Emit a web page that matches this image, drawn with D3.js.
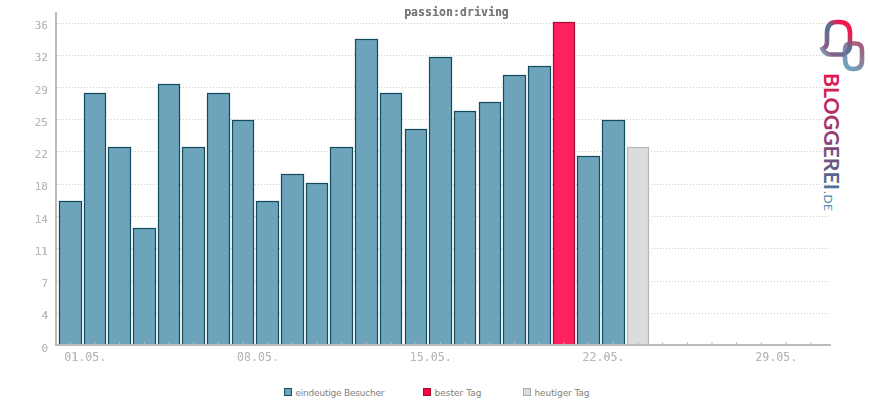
<!DOCTYPE html>
<html><head><meta charset="utf-8">
<script src="https://cdn.jsdelivr.net/npm/d3@7"></script>
<style>html,body{margin:0;padding:0;background:#fff}svg{display:block}</style>
</head><body><svg id="c" width="870" height="400"></svg>
<script>
const chartTitle = "passion:driving";
const days = d3.range(1, 32);
const visitors = [16,28,22,13,29,22,28,25,16,19,18,22,34,28,24,32,26,27,30,31,36,21,25,22];
const bestDay = 21;
const todayDay = 24;
const yTicks = [0,3.6,7.2,10.8,14.4,18,21.6,25.2,28.8,32.4,36];
const xLabelDays = [1,8,15,22,29];
const legendLabels = ["eindeutige Besucher","bester Tag","heutiger Tag"];

const svg = d3.select("#c");
const defs = svg.append("defs");
const x = d3.scaleBand().domain(days).range([58,823]).paddingInner(0.085).paddingOuter(0.04);
const y = d3.scaleLinear().domain([0,36]).range([345,22.5]);
const mono = "'DejaVu Sans Mono', monospace";
const axisCol = "#bbbbbb";

// hard-edged text, like the reference's bitmap rendering
const hard = defs.append("filter").attr("id","hard").attr("x","-5%").attr("y","-20%").attr("width","110%").attr("height","140%")
  .attr("color-interpolation-filters","sRGB");
hard.append("feComponentTransfer").append("feFuncA").attr("type","table").attr("tableValues","0 0.35 1 1");

// grid
svg.append("g").selectAll("line").data(yTicks.slice(1)).join("line")
  .attr("x1",57).attr("x2",830)
  .attr("y1",d=>Math.round(y(d))+0.5).attr("y2",d=>Math.round(y(d))+0.5)
  .attr("stroke","#cccccc").attr("stroke-dasharray","1,2");

// bars
const style = i => i+1===bestDay ? ["#ff2060","#a80a38"] : i+1===todayDay ? ["#dcdcdc","#b8b8b8"] : ["#6ea3bc","#124a5e"];
const left = i => Math.round(x(i+1))+0.5;
const right = i => Math.round(x(i+1)+x.bandwidth())-0.5;
const top_ = d => Math.round(y(d))-0.5;
svg.append("g").selectAll("rect").data(visitors).join("rect")
  .attr("x",(d,i)=>left(i)).attr("width",(d,i)=>right(i)-left(i))
  .attr("y",d=>top_(d)).attr("height",d=>y(0)-top_(d))
  .attr("fill",(d,i)=>style(i)[0]).attr("stroke",(d,i)=>style(i)[1]).attr("stroke-width",1.2);

// axes
const yAxis = d3.axisLeft(y).tickValues(yTicks).tickSize(0).tickPadding(8).tickFormat(d=>Math.round(d));
const yG = svg.append("g").attr("transform","translate(56,2.5)").call(yAxis);
yG.select(".domain").remove();
yG.selectAll("text").attr("font-family",mono).attr("font-size",11).attr("fill","#bcbcbc").attr("filter","url(#hard)");
svg.append("line").attr("x1",56).attr("x2",56).attr("y1",12).attr("y2",346).attr("stroke",axisCol).attr("stroke-width",2);
svg.append("line").attr("x1",55).attr("x2",831).attr("y1",345).attr("y2",345).attr("stroke",axisCol).attr("stroke-width",2);

const xAxis = d3.axisBottom(x).tickSize(3).tickPadding(4).tickFormat(d=>xLabelDays.includes(d)?String(d).padStart(2,"0")+".05.":"");
const xG = svg.append("g").attr("transform","translate(0,346)").call(xAxis);
xG.select(".domain").remove();
xG.selectAll("line").attr("stroke",axisCol).attr("y1",-4).attr("y2",-0.5);
xG.selectAll("text").attr("font-family",mono).attr("font-size",11.6).attr("fill","#bcbcbc").attr("text-anchor","start").attr("dx",-6).attr("textLength",42).attr("filter","url(#hard)");

// title
svg.append("text").attr("x",456.5).attr("y",16).attr("text-anchor","middle")
  .attr("font-family",mono).attr("font-weight","bold").attr("font-size",11.6).attr("fill","#7c7c7c").attr("filter","url(#hard)").text(chartTitle);

// legend
const legendX = [284,423,523];
const legendLen = [89,47,55];
const legendFill = [["#6ea3bc","#124a5e"],["#ff0040","#a80a38"],["#dcdcdc","#a8a8a8"]];
const lg = svg.append("g").selectAll("g").data(legendLabels).join("g").attr("transform",(d,i)=>`translate(${legendX[i]},388)`);
lg.append("rect").attr("x",0.5).attr("y",0.5).attr("width",7).attr("height",7)
  .attr("fill",(d,i)=>legendFill[i][0]).attr("stroke",(d,i)=>legendFill[i][1]);
lg.append("text").attr("x",11.5).attr("y",7.5).attr("font-family","'DejaVu Sans', sans-serif").attr("font-size",9).attr("fill","#808080")
  .attr("textLength",(d,i)=>legendLen[i]).text(d=>d);

// logo
function grad(id,a,b,stops){
  const g = defs.append("linearGradient").attr("id",id).attr("gradientUnits","userSpaceOnUse")
    .attr("x1",a[0]).attr("y1",a[1]).attr("x2",b[0]).attr("y2",b[1]);
  stops.forEach(s=>g.append("stop").attr("offset",s[0]).attr("stop-color",s[1]));
}
grad("bigG",[822,55],[852,28],[[0,"#7fb2c8"],[0.2,"#8a5c86"],[0.6,"#4f7797"],[0.85,"#f01850"],[1,"#f01850"]]);
grad("smallG",[845,62],[862,45],[[0,"#6fa3bb"],[1,"#a85a78"]]);
grad("textG2",[0,0],[139,0],[[0,"#e8134f"],[0.45,"#8f3f72"],[0.8,"#4f6b90"],[1,"#5f9ab8"]]);
const logo = svg.append("g").attr("fill","none").attr("stroke-width",4.6).attr("stroke-linecap","round");
logo.append("path").attr("d","M845 58 V50 Q845 43.5 851 43.5 H855 Q862 43.5 862 50 V60 Q862 69 854 69 H853 Q845 69 845 58 Z").attr("stroke","url(#smallG)");
logo.append("path").attr("d","M847 52 Q850 50 850 45 V33 Q850 22 839 22 H837 Q827 22 827 33 V42 Q827 47 822.5 49 Q825 54.5 831 54.5 H843").attr("stroke","url(#bigG)");
const t = svg.append("g").attr("transform","translate(824,73) rotate(90)").attr("font-family","Lato, sans-serif").attr("fill","url(#textG2)");
t.append("text").attr("x",0).attr("y",0).attr("font-size",21).attr("font-weight",700).attr("textLength",117).attr("lengthAdjust","spacingAndGlyphs").text("BLOGGEREI");
t.append("text").attr("x",118).attr("y",0).attr("font-size",12).attr("textLength",20).text(".DE");
</script></body></html>
